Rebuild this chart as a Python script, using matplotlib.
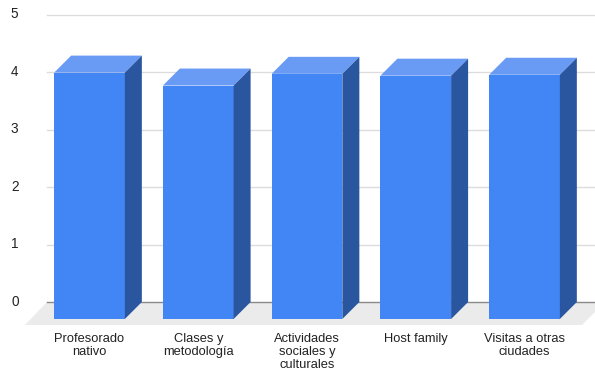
import matplotlib
matplotlib.use("Agg")
import matplotlib.pyplot as plt
from matplotlib.patches import Polygon
from matplotlib.transforms import Affine2D, ScaledTranslation

categories = ["Profesorado\nnativo", "Clases y\nmetodología", "Actividades\nsociales y\nculturales",
              "Host family", "Visitas a otras\nciudades"]
values = [4.00, 3.79, 3.98, 3.95, 3.965]
grid_ticks = [0, 1, 2, 3, 4, 5]

W, H = 595, 371
plt.rcParams['font.family'] = ['Liberation Sans', 'DejaVu Sans']
fig = plt.figure(figsize=(W / 100, H / 100), dpi=100, facecolor='white')

# floor of the 3D chart, placed in pixels (y measured from the top)
px = Affine2D().scale(1, -1).translate(0, H)
floor = Polygon([(47, 302), (25, 325), (582, 325), (605, 302)], closed=True,
                facecolor='#ebebeb', edgecolor='none', transform=px, zorder=-1)
fig.add_artist(floor)

# back plane with gridlines and value labels
y0, y5 = 302, 14.5
ax_grid = fig.add_axes([47 / W, (H - y0) / H, (W - 47) / W, (y0 - y5) / H], facecolor='none', zorder=1)
ax_grid.set_xlim(0, 1)
ax_grid.set_ylim(0, 5)
ax_grid.set_xticks([])
ax_grid.set_yticks(grid_ticks)
ax_grid.tick_params(axis='y', length=0, pad=20.5, labelsize=9.8, labelcolor='#222222')
nudge = ScaledTranslation(0, 1.2 / 72, fig.dpi_scale_trans)
for lab in ax_grid.get_yticklabels():
    lab.set_horizontalalignment('right')
    lab.set_transform(lab.get_transform() + nudge)
for s in ax_grid.spines.values():
    s.set_visible(False)
for t in grid_ticks:
    ax_grid.axhline(t, color='#8a8a8a' if t == 0 else '#dcdcdc', lw=1.0, zorder=1, clip_on=False)

# bars: front plane
base, unit = 319, 61.6
first, step, width = 89.5, 108.75, 70.7
depth_x, depth_y = 17 / step, 17 / unit
ax = fig.add_axes([0, (H - base) / H, 1, base / H], facecolor='none', zorder=2)
ax.set_xlim(-first / step, (W - first) / step)
ax.set_ylim(0, base / unit)
bw = width / step
xs = list(range(len(values)))
ax.bar(xs, values, width=bw, color='#4285f4', edgecolor='none', zorder=3)
for x, v in zip(xs, values):
    l, r = x - bw / 2, x + bw / 2
    ax.add_patch(Polygon([(l, v), (r, v), (r + depth_x, v + depth_y), (l + depth_x, v + depth_y)],
                         closed=True, facecolor='#699bf5', edgecolor='none', zorder=3))
    ax.add_patch(Polygon([(r, 0), (r + depth_x, depth_y), (r + depth_x, v + depth_y), (r, v)],
                         closed=True, facecolor='#2a56a0', edgecolor='none', zorder=3))
ax.set_xticks(xs)
ax.set_xticklabels(categories, fontsize=9.3, color='#222222', linespacing=1.13)
ax.tick_params(axis='x', length=0, pad=10)
ax.set_yticks([])
for s in ax.spines.values():
    s.set_visible(False)

fig.savefig("out.png", dpi=100)
